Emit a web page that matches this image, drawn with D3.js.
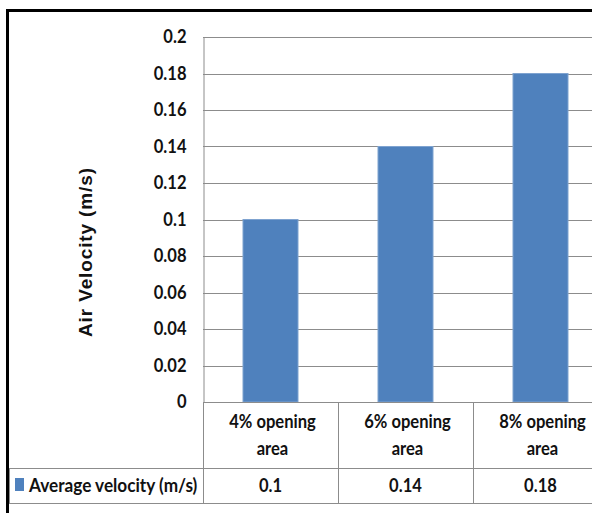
<!DOCTYPE html>
<html>
<head>
<meta charset="utf-8">
<script src="https://cdn.jsdelivr.net/npm/d3@7"></script>
<style>
  html, body { margin: 0; padding: 0; background: #fff; }
  svg { display: block; }
</style>
</head>
<body>
<svg id="chart" width="592" height="513"></svg>
<script>
// Opening-area categories and the measured average air velocity (m/s)
const categories = ["4% opening area", "6% opening area", "8% opening area"];
const categoryLines = [["4% opening", "area"], ["6% opening", "area"], ["8% opening", "area"]];
const velocity = [0.1, 0.14, 0.18];
const yTicks = [0, 0.02, 0.04, 0.06, 0.08, 0.1, 0.12, 0.14, 0.16, 0.18, 0.2];
const seriesName = "Average velocity (m/s)";
const axisTitle = "Air Velocity (m/s)";

const svg = d3.select("#chart");
const W = 592, H = 513;

const plot = { left: 203, right: 608, top: 37, bottom: 402 };
const tableRowTop = 468, tableBottom = 503, tableLeft = 9;

const x = d3.scaleBand().domain(categories).range([plot.left, plot.right]).paddingInner(0).paddingOuter(0);
const y = d3.scaleLinear().domain([0, 0.2]).range([plot.bottom, plot.top]);

const gridColor = "#8c8c8c";
const labelFont = "Lato, 'Open Sans', sans-serif";
const labelSize = 18;
const narrow = 0.92;   // condense label glyphs horizontally

// Squeeze a text element to a fraction of its natural width
function condense(sel, k = narrow) {
  sel.each(function () {
    const len = this.getComputedTextLength();
    d3.select(this).attr("textLength", len * k).attr("lengthAdjust", "spacingAndGlyphs");
  });
}
function labelStyle(sel) {
  sel.attr("font-family", labelFont).attr("font-weight", "bold")
    .attr("font-size", labelSize).attr("fill", "#111");
}

// Outer chart frame
svg.append("rect")
  .attr("x", 7.5).attr("y", 10.5)
  .attr("width", W + 20).attr("height", H + 20)
  .attr("fill", "none").attr("stroke", "#000").attr("stroke-width", 3);

// Horizontal gridlines
svg.append("g").selectAll("line").data(yTicks.filter(d => d > 0)).join("line")
  .attr("x1", plot.left).attr("x2", W)
  .attr("y1", d => Math.round(y(d)) + 0.5).attr("y2", d => Math.round(y(d)) + 0.5)
  .attr("stroke", gridColor).attr("stroke-width", 1);

// Y axis with tick labels
const yAxis = d3.axisLeft(y).tickValues(yTicks).tickSize(0).tickPadding(17)
  .tickFormat(d => String(+d.toFixed(2)));
const gy = svg.append("g").attr("transform", `translate(${plot.left + 0.5},0)`).call(yAxis);
gy.select(".domain").attr("stroke", gridColor);
gy.selectAll("text").call(labelStyle).call(condense);

// Bars
const barW = 55;
svg.append("g").selectAll("rect").data(velocity).join("rect")
  .attr("x", (d, i) => x(categories[i]) + (x.bandwidth() - barW) / 2)
  .attr("y", d => y(d))
  .attr("width", barW)
  .attr("height", d => y(0) - y(d))
  .attr("fill", "#4f81bd")
  .attr("stroke", "#7fa3d0").attr("stroke-width", 1);

// Data table: lines
const tbl = svg.append("g").attr("stroke", gridColor).attr("stroke-width", 1);
tbl.append("line").attr("x1", plot.left).attr("x2", W)
  .attr("y1", plot.bottom + 0.5).attr("y2", plot.bottom + 0.5);
tbl.append("line").attr("x1", tableLeft).attr("x2", W)
  .attr("y1", tableRowTop + 0.5).attr("y2", tableRowTop + 0.5);
tbl.append("line").attr("x1", tableLeft).attr("x2", W)
  .attr("y1", tableBottom + 0.5).attr("y2", tableBottom + 0.5);
tbl.append("line").attr("x1", tableLeft + 0.5).attr("x2", tableLeft + 0.5)
  .attr("y1", tableRowTop).attr("y2", tableBottom);
tbl.selectAll(".sep").data(categories).join("line")
  .attr("x1", d => Math.round(x(d)) + 0.5).attr("x2", d => Math.round(x(d)) + 0.5)
  .attr("y1", plot.bottom).attr("y2", tableBottom);

// Category labels (two lines per category)
const catG = svg.append("g").attr("text-anchor", "middle");
categories.forEach((c, i) => {
  const cx = x(c) + x.bandwidth() / 2 + 2;
  categoryLines[i].forEach((ln, k) => {
    catG.append("text").attr("x", cx).attr("y", 428 + k * 27).text(ln)
      .call(labelStyle).call(condense);
  });
});

// Table values row
svg.append("g").selectAll("text").data(velocity).join("text")
  .attr("x", (d, i) => x(categories[i]) + x.bandwidth() / 2)
  .attr("y", 492)
  .attr("text-anchor", "middle")
  .text(d => d)
  .call(labelStyle).call(condense);

// Legend key and series name
svg.append("rect").attr("x", 15).attr("y", 478).attr("width", 9).attr("height", 13).attr("fill", "#4f81bd");
svg.append("text").attr("x", 29).attr("y", 492)
  .text(seriesName)
  .call(labelStyle).call(condense, 0.955);

// Y axis title
const title = svg.append("text")
  .attr("transform", `translate(92,${(168 + 337) / 2}) rotate(-90)`)
  .attr("text-anchor", "middle")
  .attr("font-family", "'Liberation Sans', Arial, sans-serif").attr("font-weight", "bold")
  .attr("font-size", 19).attr("fill", "#111")
  .text(axisTitle);
title.attr("textLength", 169).attr("lengthAdjust", "spacing");
</script>
</body>
</html>
